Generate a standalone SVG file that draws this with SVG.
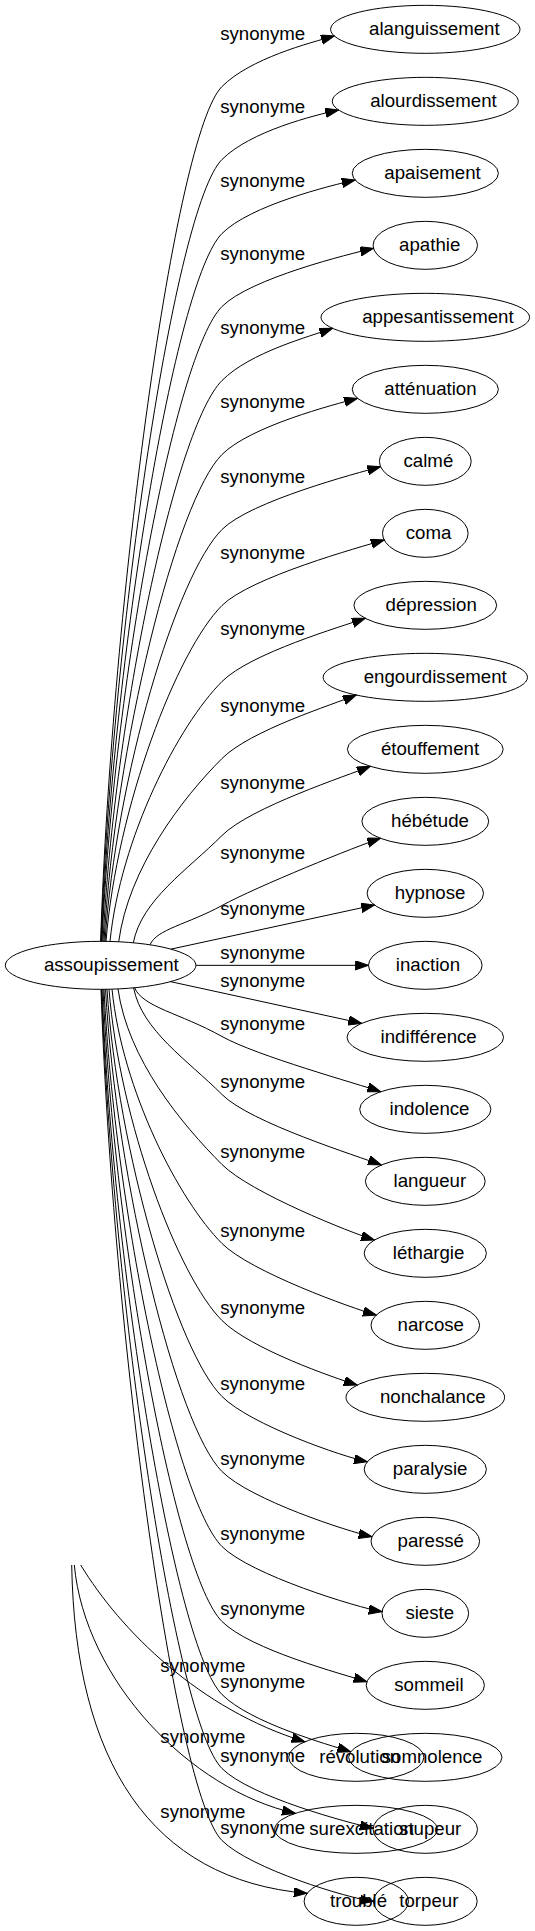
<svg xmlns="http://www.w3.org/2000/svg" width="535" height="1931" viewBox="0 0 535 1931">
<style>
.n ellipse{fill:none;stroke:#000;stroke-width:1}
text{font-family:"Liberation Sans",Arial,sans-serif;font-size:18.67px;fill:#000}
.e path{fill:none;stroke:#000;stroke-width:1;marker-end:url(#ah)}
</style>
<defs>
<marker id="ah" markerUnits="userSpaceOnUse" markerWidth="14" markerHeight="10" refX="13.33" refY="4.67" orient="auto">
<path d="M0,0 L13.33,4.67 L0,9.33 Z" fill="#000" stroke="#000" stroke-width="1"/>
</marker>
</defs>
<rect width="535" height="1931" fill="#fff"/>
<g id="edges" class="e">
<path d="M100.6,941.33 C112.01,599.4 174.79,133.71 222,86.5 C250.28,58.22 310.32,42.74 334.4,36"/>
<path d="M101,941.33 C112.37,628.6 174.94,206.56 222,159.5 C250.28,131.22 314.16,115.3 338.6,110"/>
<path d="M101.5,941.33 C112.83,658.2 175.14,280.36 222,233.5 C250.28,205.22 330.71,185.49 355.1,180"/>
<path d="M102,941.34 C113.28,687.4 175.33,353.17 222,306.5 C250.28,278.22 349.15,253.98 373.5,248.3"/>
<path d="M103,941.36 C114.19,717.02 175.72,426.78 222,380.5 C250.28,352.22 309.05,336.7 332.6,328.3"/>
<path d="M104,941.37 C115.09,746.62 176.11,500.39 222,454.5 C250.28,426.22 333.34,404.71 357.5,398.3"/>
<path d="M105,941.4 C116,776.64 176.5,575 222,529.5 C250.28,501.22 356.47,473.25 380.6,466.7"/>
<path d="M106,941.41 C116.9,807.05 176.89,650.61 222,605.5 C250.28,577.22 360.21,547.03 384.2,540"/>
<path d="M110,941.45 C120.53,837.47 178.44,725.06 222,681.5 C250.28,653.22 341.67,626.47 365.3,618.3"/>
<path d="M118.7,941.77 C128.41,868.46 181.83,798.67 222,758.5 C250.28,730.22 333.18,704.51 356.3,695"/>
<path d="M133.3,942.78 C141.64,899.87 187.5,870 222,835.5 C250.28,807.22 347.17,775.79 370.3,766.3"/>
<path d="M150,944.8 C156.77,929.08 187.24,924.47 222,905.5 C257.11,886.34 356.76,846.12 380.5,838.3"/>
<path d="M171,949.14 L374.5,905"/>
<path d="M195.93,965.33 L368.5,965.33"/>
<path d="M170.5,981.65 L361.7,1023.3"/>
<path d="M134.6,987.75 C142.8,1007.25 180.03,1013.09 222,1036.5 C256.92,1055.98 357.04,1083.62 380.7,1091.7"/>
<path d="M133.6,987.85 C141.91,1030.51 187.62,1060.12 222,1094.5 C250.28,1122.78 357.94,1156.09 381.3,1165"/>
<path d="M118,988.93 C127.78,1059.16 181.55,1124.05 222,1164.5 C250.28,1192.78 350.54,1232.54 374.4,1240"/>
<path d="M112,989.16 C122.34,1090.9 179.22,1200.72 222,1243.5 C250.28,1271.78 352.21,1308.34 376.3,1315"/>
<path d="M109,989.24 C119.62,1121.74 178.05,1276.55 222,1320.5 C250.28,1348.78 333.32,1377.59 357.2,1385"/>
<path d="M107,989.28 C117.81,1152.17 177.28,1351.78 222,1396.5 C250.28,1424.78 342.79,1456.79 367.3,1461.7"/>
<path d="M105.5,989.3 C116.45,1182.18 176.69,1426.19 222,1471.5 C250.28,1499.78 347.56,1531.41 372,1536.7"/>
<path d="M104,989.33 C115.09,1212.2 176.11,1500.61 222,1546.5 C250.28,1574.78 357.42,1607.69 382.1,1611.7"/>
<path d="M103,989.33 C114.19,1242.2 175.72,1575.22 222,1621.5 C250.28,1649.78 343.04,1674.23 366.9,1681.7"/>
<path d="M102,989.33 C113.28,1271.4 175.33,1647.83 222,1694.5 C250.28,1722.78 326.85,1744.19 350.7,1751.7"/>
<path d="M101.5,989.33 C112.83,1301 175.14,1721.64 222,1768.5 C250.28,1796.78 348.79,1822.9 373.2,1828.3"/>
<path d="M101,989.33 C112.37,1329.8 174.94,1793.44 222,1840.5 C250.28,1868.78 348.56,1898.44 373.4,1901.3"/>
<path d="M71.7,1565 C75,1760 150,1880 307.1,1893.3"/>
<path d="M74.3,1565 C85,1680 190,1790 295.4,1813.3"/>
<path d="M80.7,1565 C120,1630 200,1710 304.9,1741.7"/>
</g>
<g id="edge-labels">
<text x="220.2" y="39.5">synonyme</text>
<text x="220.2" y="112.5">synonyme</text>
<text x="220.2" y="186.5">synonyme</text>
<text x="220.2" y="259.5">synonyme</text>
<text x="220.2" y="333.5">synonyme</text>
<text x="220.2" y="407.5">synonyme</text>
<text x="220.2" y="482.5">synonyme</text>
<text x="220.2" y="558.5">synonyme</text>
<text x="220.2" y="634.5">synonyme</text>
<text x="220.2" y="711.5">synonyme</text>
<text x="220.2" y="788.5">synonyme</text>
<text x="220.2" y="858.5">synonyme</text>
<text x="220.2" y="914.5">synonyme</text>
<text x="220.2" y="958.5">synonyme</text>
<text x="220.2" y="986.5">synonyme</text>
<text x="220.2" y="1029.5">synonyme</text>
<text x="220.2" y="1087.5">synonyme</text>
<text x="220.2" y="1157.5">synonyme</text>
<text x="220.2" y="1236.5">synonyme</text>
<text x="220.2" y="1313.5">synonyme</text>
<text x="220.2" y="1389.5">synonyme</text>
<text x="220.2" y="1464.5">synonyme</text>
<text x="220.2" y="1539.5">synonyme</text>
<text x="220.2" y="1614.5">synonyme</text>
<text x="220.2" y="1687.5">synonyme</text>
<text x="220.2" y="1761.5">synonyme</text>
<text x="220.2" y="1833.5">synonyme</text>
<text x="160.3" y="1671.5">synonyme</text>
<text x="160.3" y="1742.5">synonyme</text>
<text x="160.3" y="1817.5">synonyme</text>
</g>
<g id="assoupissement" class="n"><ellipse cx="100.63" cy="965.33" rx="95.3" ry="24"/><text x="43.9" y="970.8">assoupissement</text></g>
<g id="alanguissement" class="n"><ellipse cx="425.3" cy="29.33" rx="94.7" ry="24"/><text x="369" y="34.8">alanguissement</text></g>
<g id="alourdissement" class="n"><ellipse cx="425.3" cy="101.33" rx="93" ry="24"/><text x="370.2" y="106.8">alourdissement</text></g>
<g id="apaisement" class="n"><ellipse cx="425.3" cy="173.33" rx="73.1" ry="24"/><text x="384.3" y="178.8">apaisement</text></g>
<g id="apathie" class="n"><ellipse cx="425.3" cy="245.33" rx="52.2" ry="24"/><text x="399.1" y="250.8">apathie</text></g>
<g id="appesantissement" class="n"><ellipse cx="425.3" cy="317.33" rx="104.3" ry="24"/><text x="362.2" y="322.8">appesantissement</text></g>
<g id="attenuation" class="n"><ellipse cx="425.3" cy="389.33" rx="73.1" ry="24"/><text x="384.3" y="394.8">atténuation</text></g>
<g id="calme" class="n"><ellipse cx="425.3" cy="461.33" rx="45.9" ry="24"/><text x="403.5" y="466.8">calmé</text></g>
<g id="coma" class="n"><ellipse cx="425.3" cy="533.33" rx="42.8" ry="24"/><text x="405.7" y="538.8">coma</text></g>
<g id="depression" class="n"><ellipse cx="425.3" cy="605.33" rx="71.4" ry="24"/><text x="385.5" y="610.8">dépression</text></g>
<g id="engourdissement" class="n"><ellipse cx="425.3" cy="677.33" rx="102.2" ry="24"/><text x="363.7" y="682.8">engourdissement</text></g>
<g id="etouffement" class="n"><ellipse cx="425.3" cy="749.33" rx="77.9" ry="24"/><text x="380.9" y="754.8">étouffement</text></g>
<g id="hebetude" class="n"><ellipse cx="425.3" cy="821.33" rx="63.4" ry="24"/><text x="391.1" y="826.8">hébétude</text></g>
<g id="hypnose" class="n"><ellipse cx="425.3" cy="893.33" rx="58.2" ry="24"/><text x="394.8" y="898.8">hypnose</text></g>
<g id="inaction" class="n"><ellipse cx="425.3" cy="965.33" rx="56.8" ry="24"/><text x="395.8" y="970.8">inaction</text></g>
<g id="indifference" class="n"><ellipse cx="425.3" cy="1037.33" rx="78.3" ry="24"/><text x="380.6" y="1042.8">indifférence</text></g>
<g id="indolence" class="n"><ellipse cx="425.3" cy="1109.33" rx="65.6" ry="24"/><text x="389.6" y="1114.8">indolence</text></g>
<g id="langueur" class="n"><ellipse cx="425.3" cy="1181.33" rx="59.9" ry="24"/><text x="393.6" y="1186.8">langueur</text></g>
<g id="lethargie" class="n"><ellipse cx="425.3" cy="1253.33" rx="61.1" ry="24"/><text x="392.8" y="1258.8">léthargie</text></g>
<g id="narcose" class="n"><ellipse cx="425.3" cy="1325.33" rx="54.3" ry="24"/><text x="397.6" y="1330.8">narcose</text></g>
<g id="nonchalance" class="n"><ellipse cx="425.3" cy="1397.33" rx="79.3" ry="24"/><text x="379.9" y="1402.8">nonchalance</text></g>
<g id="paralysie" class="n"><ellipse cx="425.3" cy="1469.33" rx="61.1" ry="24"/><text x="392.8" y="1474.8">paralysie</text></g>
<g id="paresse" class="n"><ellipse cx="425.3" cy="1541.33" rx="54.3" ry="24"/><text x="397.6" y="1546.8">paressé</text></g>
<g id="sieste" class="n"><ellipse cx="425.3" cy="1613.33" rx="43.3" ry="24"/><text x="405.4" y="1618.8">sieste</text></g>
<g id="sommeil" class="n"><ellipse cx="425.3" cy="1685.33" rx="59.1" ry="24"/><text x="394.2" y="1690.8">sommeil</text></g>
<g id="revolution" class="n"><ellipse cx="356.3" cy="1757.33" rx="67.6" ry="24"/><text x="319.2" y="1762.8">révolution</text></g>
<g id="somnolence" class="n"><ellipse cx="425.3" cy="1757.33" rx="76.7" ry="24"/><text x="381.7" y="1762.8">somnolence</text></g>
<g id="surexcitation" class="n"><ellipse cx="356" cy="1829.33" rx="81.3" ry="24"/><text x="309.2" y="1834.8">surexcitation</text></g>
<g id="stupeur" class="n"><ellipse cx="425.3" cy="1829.33" rx="52.2" ry="24"/><text x="399.1" y="1834.8">stupeur</text></g>
<g id="trouble" class="n"><ellipse cx="356.3" cy="1901.33" rx="52.2" ry="24"/><text x="330.1" y="1906.8">troublé</text></g>
<g id="torpeur" class="n"><ellipse cx="425.3" cy="1901.33" rx="51.9" ry="24"/><text x="399.3" y="1906.8">torpeur</text></g>
</svg>
